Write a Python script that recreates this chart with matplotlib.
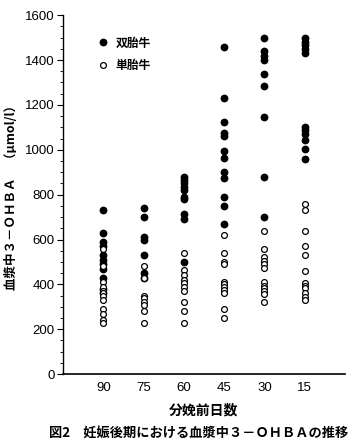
import matplotlib
matplotlib.use("Agg")
import matplotlib.pyplot as plt
from matplotlib.ticker import MultipleLocator

plt.rcParams['font.family'] = ['Liberation Sans', 'Noto Sans CJK JP', 'DejaVu Sans']

# 分娩前日数
days = ['90', '75', '60', '45', '30', '15']

# 双胎牛 (黒丸)
twin = [
    [730, 630, 590, 570, 530, 510, 490, 470, 430, 380, 360],
    [740, 700, 610, 600, 530, 450, 430],
    [880, 865, 850, 835, 820, 790, 780, 715, 690, 500],
    [1460, 1230, 1125, 1075, 1060, 995, 965, 900, 875, 790, 750, 670],
    [1500, 1440, 1420, 1400, 1340, 1285, 1145, 880, 700],
    [1500, 1480, 1465, 1450, 1430, 1100, 1090, 1070, 1045, 1005, 960],
]

# 単胎牛 (白丸)
single = [
    [560, 480, 410, 390, 370, 360, 350, 330, 290, 270, 240, 230],
    [480, 430, 350, 340, 320, 310, 280, 230],
    [540, 465, 440, 420, 405, 390, 370, 320, 280, 230],
    [620, 540, 500, 490, 410, 400, 390, 375, 360, 290, 250],
    [640, 560, 520, 505, 490, 475, 410, 395, 385, 370, 355, 320],
    [760, 730, 640, 570, 530, 460, 405, 395, 385, 360, 345, 330],
]

fig = plt.figure(figsize=(3.62, 4.47), dpi=100)
ax = fig.add_axes([0.174, 0.163, 0.779, 0.803])

for i, vals in enumerate(twin):
    ax.plot([i + 1] * len(vals), vals, 'o', color='black', markersize=4.6,
            linestyle='none', label='双胎牛' if i == 0 else None)
for i, vals in enumerate(single):
    ax.plot([i + 1] * len(vals), vals, 'o', markerfacecolor='white',
            markeredgecolor='black', markeredgewidth=0.9, markersize=4.2,
            linestyle='none', label='単胎牛' if i == 0 else None)

ax.set_xlim(0, 7)
ax.set_ylim(0, 1600)
ax.set_xticks(range(1, 7))
ax.set_xticklabels(days, fontsize=9.5)
ax.tick_params(axis='x', length=0, pad=6)
ax.yaxis.set_major_locator(MultipleLocator(200))
ax.yaxis.set_minor_locator(MultipleLocator(50))
ax.tick_params(axis='y', which='major', length=4, width=0.8, labelsize=9.5, pad=2)
ax.tick_params(axis='y', which='minor', length=2, width=0.6)
ax.spines['top'].set_visible(False)
ax.spines['right'].set_visible(False)
ax.spines['left'].set_linewidth(1.0)
ax.spines['bottom'].set_linewidth(1.2)

ax.legend(loc='upper left', bbox_to_anchor=(0.085, 0.97), frameon=False,
          prop={'family': 'Noto Sans CJK JP', 'weight': 'bold', 'size': 8.5},
          handletextpad=0.5, labelspacing=0.8, handlelength=1.0)

ax.set_ylabel('血漿中３－ＯＨＢＡ　（μmol/l）', family=['Noto Sans CJK JP', 'DejaVu Sans'],
              fontsize=9, fontweight='bold', va='center')
ax.yaxis.set_label_coords(-0.181, 0.5)
ax.set_xlabel('分娩前日数', family='Noto Sans CJK JP', fontsize=10,
              fontweight='bold', va='center')
ax.xaxis.set_label_coords(0.5, -0.1)

fig.text(0.55, 0.031, '図2　妊娠後期における血漿中３－ＯＨＢＡの推移',
         family='Noto Sans CJK JP', fontsize=9.5, fontweight='bold',
         ha='center', va='center')

fig.savefig('out.png', dpi=100)
